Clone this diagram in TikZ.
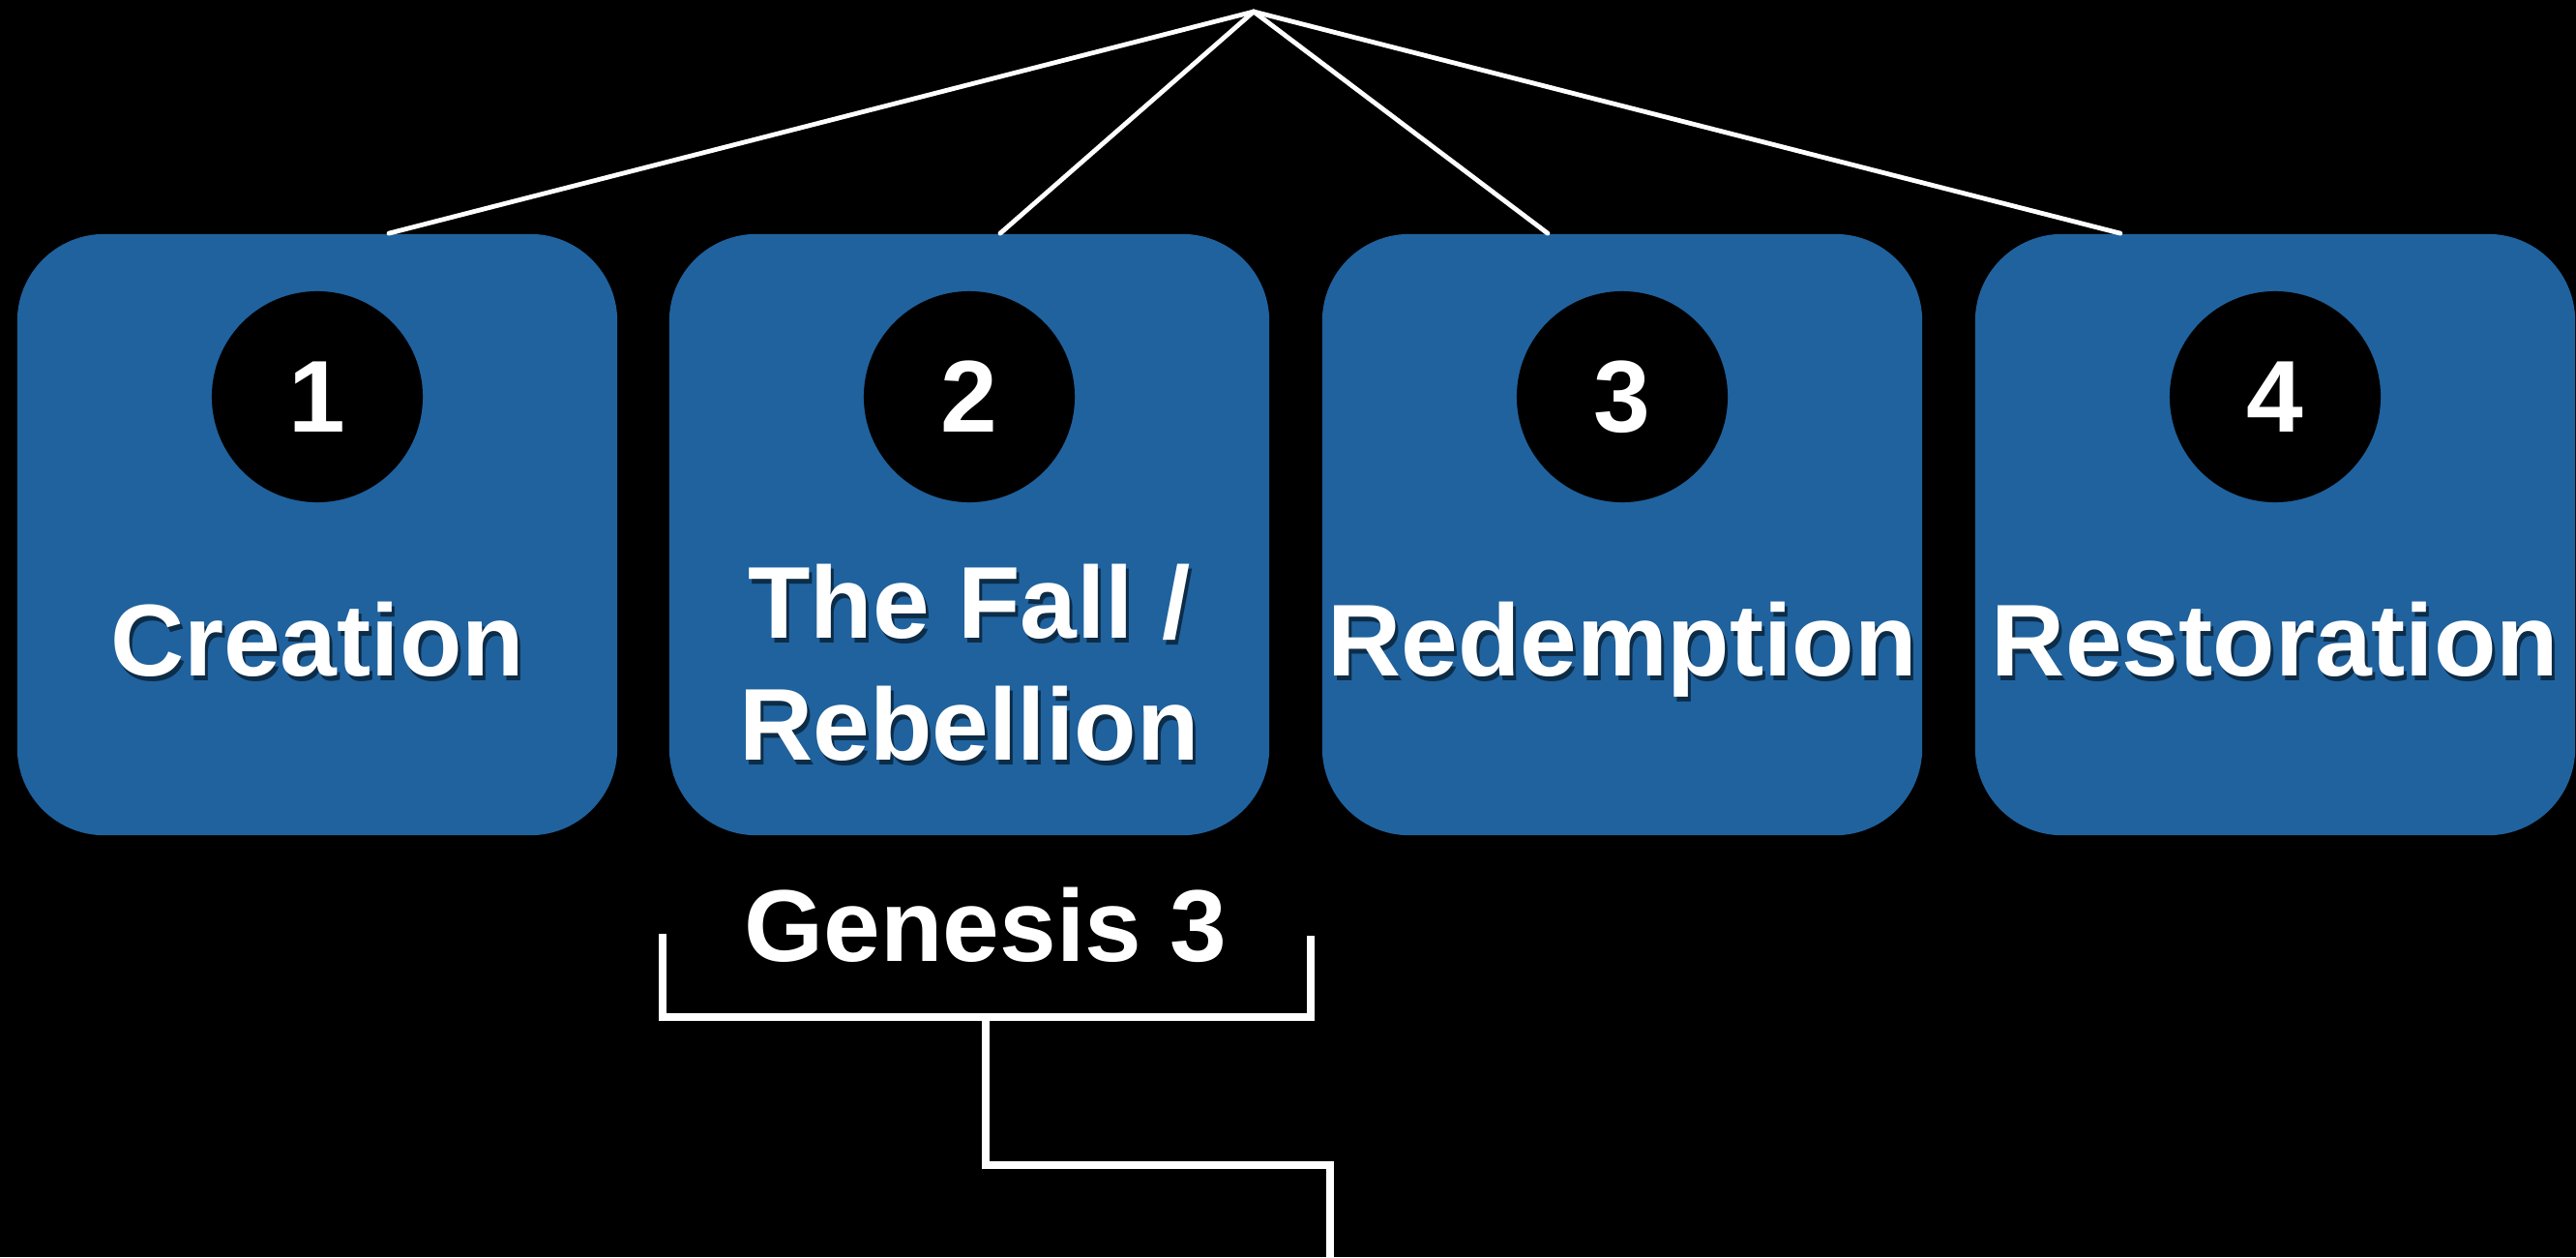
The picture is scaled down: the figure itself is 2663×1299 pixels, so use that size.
\documentclass[tikz,border=0pt]{standalone}
\usepackage{fontspec}
\setmainfont{Liberation Sans}
\definecolor{boxblue}{RGB}{31,98,158}
\tikzset{
  box/.style={rectangle, fill=boxblue, draw=none, minimum width=6.2cm, minimum height=6.21cm, inner sep=0pt, rounded corners=0.9cm},
  numc/.style={circle, fill=black, draw=none, minimum size=2.18cm, inner sep=0pt, text=white, font=\fontsize{30pt}{36pt}\selectfont\bfseries},
  lbl/.style={inner sep=0pt, anchor=base, text=white, font=\fontsize{30pt}{36pt}\selectfont\bfseries},
  lblshadow/.style={lbl, text=black, text opacity=0.55},
  gen/.style={inner sep=0pt, anchor=base, text=white, font=\fontsize{30pt}{36pt}\selectfont\bfseries},
  thinline/.style={draw=white, line width=0.048cm, line cap=round},
  bracket/.style={draw=white, line width=0.08cm, line join=miter}
}
\begin{document}
\begin{tikzpicture}[x=0.01cm, y=-0.01cm]
\fill[black] (0,0) rectangle (2663,1299);
\useasboundingbox (0,0) rectangle (2663,1299);
% boxes
\node[box] (b1) at (328,552.5) {};
\node[box] (b2) at (1002,552.5) {};
\node[box] (b3) at (1677,552.5) {};
\node[box] (b4) at (2352,552.5) {};
% number circles
\node[numc] (c1) at (328,410) {1};
\node[numc] (c2) at (1002,410) {2};
\node[numc] (c3) at (1677,410) {3};
\node[numc] (c4) at (2352,410) {4};
% label shadows
\node[lblshadow] (s1) at (331,703) {Creation};
\node[lblshadow] (s2a) at (1005,664) {The Fall /};
\node[lblshadow] (s2b) at (1005,790) {Rebellion};
\node[lblshadow] (s3) at (1680,703) {Redemption};
\node[lblshadow] (s4) at (2355,703) {Restoration};
% labels
\node[lbl] (t1) at (328,698) {Creation};
\node[lbl] (t2a) at (1002,659) {The Fall /};
\node[lbl] (t2b) at (1002,785) {Rebellion};
\node[lbl] (t3) at (1677,698) {Redemption};
\node[lbl] (t4) at (2352,698) {Restoration};
% connectors from apex
\coordinate (apex) at (1296,12);
\draw[thinline] ([xshift=0.74cm]b1.north) -- (apex);
\draw[thinline] ([xshift=0.32cm]b2.north) -- (apex);
\draw[thinline] ([xshift=-0.77cm]b3.north) -- (apex);
\draw[thinline] ([xshift=-1.6cm]b4.north) -- (apex);
% Genesis 3
\node[gen] (g) at (1019,993) {Genesis 3};
\coordinate (brA) at (685,965);
\coordinate (brB) at (685,1051);
\coordinate (brC) at (1355,1051);
\coordinate (brD) at (1355,967);
\draw[bracket] (brA) -- (brB) -- (brC) -- (brD);
\coordinate (stA) at (1019,1051);
\coordinate (stB) at (1019,1204);
\coordinate (stC) at (1375,1204);
\coordinate (stD) at (1375,1310);
\draw[bracket] (stA) -- (stB) -- (stC) -- (stD);
\end{tikzpicture}
\end{document}
